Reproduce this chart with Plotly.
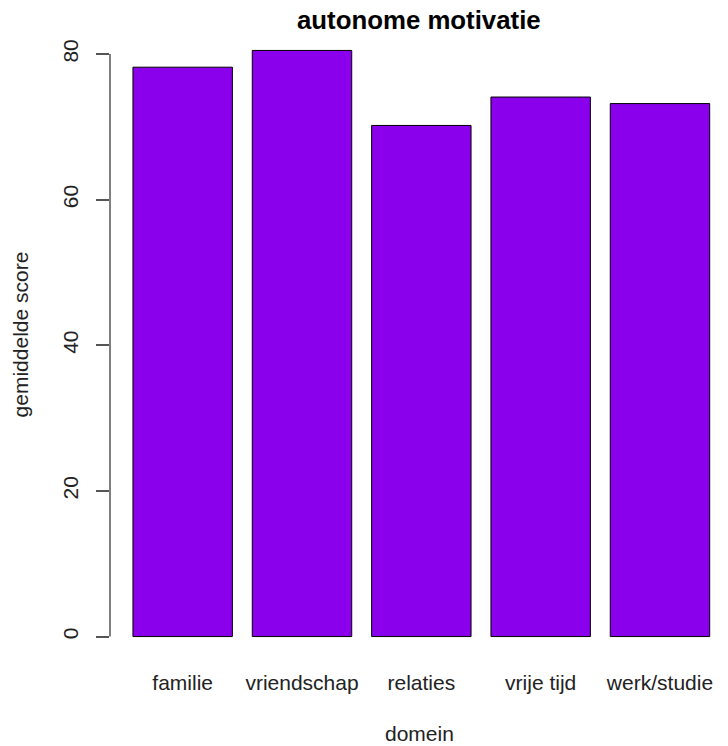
import plotly.graph_objects as go

categories = ["familie", "vriendschap", "relaties", "vrije tijd", "werk/studie"]
scores = [78.2, 80.5, 70.2, 74.1, 73.2]
yticks = [0, 20, 40, 60, 80]

FONT = "Liberation Sans, Arial, Helvetica, sans-serif"

fig = go.Figure(go.Bar(
    x=categories, y=scores,
    marker=dict(color="#8B00EC", line=dict(color="#000000", width=1)),
))

fig.update_layout(
    width=728, height=746,
    margin=dict(l=110, r=0, t=27, b=86),
    paper_bgcolor="white", plot_bgcolor="white",
    bargap=0.1667,
    showlegend=False,
    font=dict(family=FONT, size=21, color="#222222"),
    xaxis=dict(
        range=[-0.609, 4.57],
        showgrid=False, zeroline=False, showline=False,
        ticks="", tickfont=dict(size=21, color="#222222"),
        ticklabelstandoff=8,
    ),
    yaxis=dict(
        range=[-3.22, 83.72],
        tickvals=yticks, ticktext=[str(v) for v in yticks],
        showgrid=False, zeroline=False, showline=False,
        ticks="outside", ticklen=13, tickwidth=1.5, tickcolor="#555555",
        tickangle=-90, tickfont=dict(size=21, color="#222222"),
        ticklabelstandoff=10,
    ),
    shapes=[dict(type="line", xref="paper", yref="y", x0=0, x1=0,
                 y0=yticks[0], y1=yticks[-1],
                 line=dict(color="#555555", width=1.5))],
    annotations=[
        dict(text="<b>autonome motivatie</b>", xref="paper", yref="paper",
             x=0.5, y=1, yshift=7, xanchor="center", yanchor="middle",
             showarrow=False, font=dict(size=25.8, color="#000000")),
        dict(text="domein", xref="paper", yref="paper",
             x=0.5, y=0, yshift=-73, xanchor="center", yanchor="middle",
             showarrow=False, font=dict(size=21, color="#222222")),
        dict(text="gemiddelde score", xref="paper", yref="y",
             x=0, xshift=-90, y=41.5, xanchor="center", yanchor="middle",
             textangle=-90, showarrow=False, font=dict(size=21, color="#222222")),
    ],
)

fig.write_html("out.html",
               config={"displayModeBar": False},
               post_script="document.body.style.margin='0';document.body.style.overflow='hidden';")
